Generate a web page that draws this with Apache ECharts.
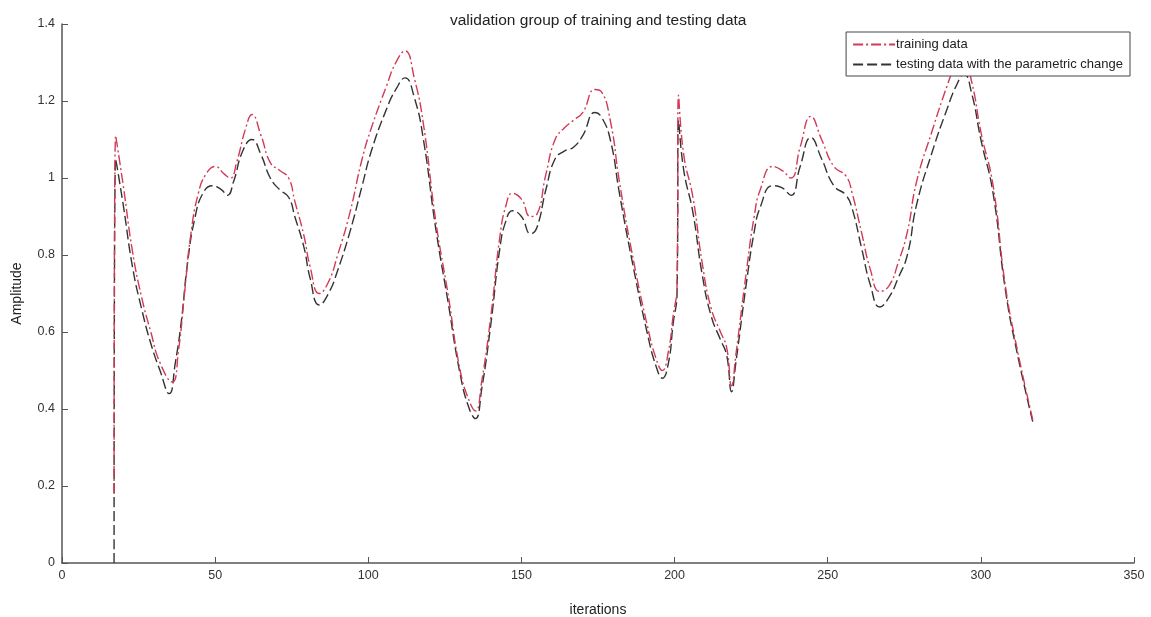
<!DOCTYPE html>
<html>
<head>
<meta charset="utf-8">
<title>validation group of training and testing data</title>
<script src="https://cdn.jsdelivr.net/npm/echarts@6/dist/echarts.min.js"></script>
<style>
  html, body { margin: 0; padding: 0; background: #fff; }
  #chart { width: 1151px; height: 617px; }
</style>
</head>
<body>
<div id="chart"></div>
<script>
// values (iteration, amplitude)
const trainIter = [17, 17.5, 20, 23, 26, 29, 32, 36, 38, 40, 42, 44.5, 47, 50, 53, 55, 57, 60, 62, 65, 68, 71, 74, 76, 79, 81, 84, 87, 90, 94, 98, 101, 106, 109, 112, 115, 118, 122, 126, 130, 133, 135, 137, 140, 143, 145, 147, 150, 153, 155, 158, 161, 164, 167, 170, 174, 176, 179, 182, 186, 191, 194, 196, 198, 199.5, 200.8, 201.3, 203, 206, 209, 212, 215, 217, 218.6, 220, 223.5, 226, 228, 232, 235, 238, 241, 244.5, 248, 252, 256, 258, 261, 264, 267, 270, 273, 276, 279, 284, 289, 292, 294, 297, 300, 304, 308, 312, 317]
const trainAmp = [0.18, 1.11, 0.98, 0.81, 0.69, 0.60, 0.52, 0.47, 0.55, 0.70, 0.85, 0.96, 1.01, 1.03, 1.01, 1.00, 1.04, 1.13, 1.165, 1.11, 1.04, 1.02, 1.00, 0.94, 0.85, 0.77, 0.70, 0.73, 0.80, 0.91, 1.05, 1.13, 1.24, 1.30, 1.33, 1.26, 1.14, 0.89, 0.70, 0.50, 0.42, 0.395, 0.47, 0.64, 0.85, 0.93, 0.96, 0.945, 0.90, 0.905, 1.01, 1.10, 1.13, 1.15, 1.17, 1.23, 1.225, 1.15, 0.99, 0.81, 0.62, 0.53, 0.50, 0.55, 0.64, 0.72, 1.215, 1.06, 0.95, 0.78, 0.66, 0.60, 0.56, 0.46, 0.54, 0.76, 0.90, 0.97, 1.03, 1.02, 1.00, 1.08, 1.16, 1.10, 1.03, 1.005, 0.96, 0.86, 0.76, 0.705, 0.72, 0.78, 0.86, 0.99, 1.12, 1.24, 1.30, 1.32, 1.25, 1.12, 0.98, 0.72, 0.55, 0.37]

const testIter = [17, 17.5, 20, 23, 26, 29, 32, 35, 37, 39, 41, 43.5, 46, 49, 52, 54, 56, 59, 62, 65, 68, 71, 74, 76, 79, 81, 84, 87, 90, 94, 98, 101, 106, 109, 112, 115, 118, 122, 126, 130, 133, 135, 137, 140, 143, 145, 147, 150, 153, 155, 158, 161, 164, 167, 170, 174, 176, 179, 182, 186, 191, 194, 196, 198, 199.5, 200.8, 201.3, 203, 206, 209, 212, 215, 217, 218.6, 220, 223.5, 226, 228, 232, 235, 238, 241, 244.5, 248, 252, 256, 258, 261, 264, 267, 270, 273, 276, 279, 284, 289, 292, 294.5, 297, 300, 304, 308, 312, 317]
const testAmp = [0, 1.05, 0.93, 0.77, 0.66, 0.57, 0.50, 0.44, 0.52, 0.63, 0.78, 0.90, 0.96, 0.98, 0.97, 0.955, 0.99, 1.07, 1.10, 1.06, 1.00, 0.97, 0.95, 0.90, 0.82, 0.74, 0.67, 0.70, 0.76, 0.86, 0.98, 1.07, 1.18, 1.23, 1.26, 1.21, 1.10, 0.87, 0.68, 0.49, 0.40, 0.375, 0.45, 0.62, 0.82, 0.89, 0.915, 0.90, 0.855, 0.87, 0.97, 1.05, 1.07, 1.08, 1.11, 1.17, 1.16, 1.10, 0.96, 0.79, 0.60, 0.51, 0.48, 0.52, 0.62, 0.70, 1.15, 1.02, 0.91, 0.75, 0.64, 0.58, 0.54, 0.445, 0.52, 0.73, 0.86, 0.925, 0.98, 0.975, 0.955, 1.03, 1.105, 1.05, 0.98, 0.955, 0.92, 0.82, 0.72, 0.665, 0.69, 0.74, 0.80, 0.93, 1.065, 1.18, 1.24, 1.27, 1.22, 1.10, 0.96, 0.71, 0.54, 0.365]

const xTicks = [0, 50, 100, 150, 200, 250, 300, 350]
const yTicks = [0, 0.2, 0.4, 0.6, 0.8, 1, 1.2, 1.4]

const font = 'Liberation Sans, Arial, sans-serif'
const axisGray = '#555'

const chart = echarts.init(document.getElementById('chart'))

function pairs(xs, ys) {
  return xs.map((x, i) => [x, ys[i]])
}

chart.setOption({
  backgroundColor: '#fff',
  animation: false,
  title: {
    text: 'validation group of training and testing data',
    left: 445,
    top: 8,
    textStyle: { fontFamily: font, fontSize: 15.5, fontWeight: 'normal', color: '#222' }
  },
  legend: {
    orient: 'vertical',
    right: 21,
    top: 32,
    padding: [6, 7, 5, 6],
    itemGap: 7,
    itemWidth: 42,
    itemHeight: 12,
    borderColor: '#444',
    borderWidth: 1,
    backgroundColor: '#fff',
    itemStyle: { opacity: 0 },
    textStyle: { fontFamily: font, fontSize: 13, color: '#222', padding: [0, 0, 0, -4] },
    data: ['training data', 'testing data with the parametric change']
  },
  grid: { left: 62, right: 17, top: 24, bottom: 54, outerBoundsMode: 'none', containLabel: false },
  xAxis: {
    type: 'value',
    min: xTicks[0],
    max: xTicks[xTicks.length - 1],
    interval: 50,
    name: 'iterations',
    nameLocation: 'middle',
    nameGap: 40,
    nameTextStyle: { fontFamily: font, fontSize: 14, color: '#222' },
    axisLine: { lineStyle: { color: axisGray, width: 1.5 } },
    axisTick: { inside: true, length: 6, lineStyle: { color: axisGray } },
    axisLabel: { fontFamily: font, fontSize: 12.5, color: '#333', margin: 6 },
    splitLine: { show: false }
  },
  yAxis: {
    type: 'value',
    min: yTicks[0],
    max: yTicks[yTicks.length - 1],
    interval: 0.2,
    name: 'Amplitude',
    nameLocation: 'middle',
    nameGap: 38,
    nameTextStyle: { fontFamily: font, fontSize: 14, color: '#222' },
    axisLine: { show: true, lineStyle: { color: axisGray, width: 1.5 } },
    axisTick: { show: true, inside: true, length: 6, lineStyle: { color: axisGray } },
    axisLabel: { fontFamily: font, fontSize: 12.5, color: '#333', margin: 7 },
    splitLine: { show: false }
  },
  series: [
    {
      name: 'training data',
      type: 'line',
      data: pairs(trainIter, trainAmp),
      showSymbol: false,
      symbol: 'none',
      smooth: 0.5,
      lineStyle: { color: '#d23a55', width: 1.4, type: [10, 3, 2, 3] },
      itemStyle: { color: '#d23a55' },
      z: 3
    },
    {
      name: 'testing data with the parametric change',
      type: 'line',
      data: pairs(testIter, testAmp),
      showSymbol: false,
      symbol: 'none',
      smooth: 0.5,
      lineStyle: { color: '#333', width: 1.4, type: [10, 4] },
      itemStyle: { color: '#333' },
      z: 2
    }
  ]
})

window.addEventListener('resize', () => chart.resize())
</script>
</body>
</html>
